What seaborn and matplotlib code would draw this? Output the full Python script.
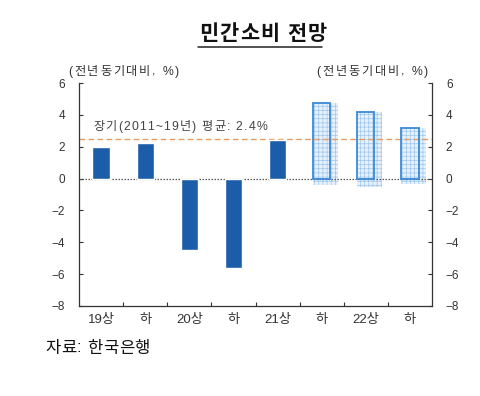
import matplotlib
matplotlib.use("Agg")
import matplotlib.pyplot as plt
import seaborn as sns
import pandas as pd
import numpy as np

categories = ["19상", "하", "20상", "하 ", "21상", "하  ", "22상", "하   "]
tick_labels = ["19상", "하", "20상", "하", "21상", "하", "22상", "하"]
actual_values = [2.0, 2.25, -4.5, -5.6, 2.4]
forecast_values = [4.75, 4.15, 3.2]
forecast_low = [-0.4, -0.55, -0.35]
long_term_avg = 2.5
avg_label = "장기(2011~19년) 평균: 2.4%"
unit_label = "(전년동기대비, %)"
title = "민간소비 전망"
source = "자료: 한국은행"
yticks = [-8, -6, -4, -2, 0, 2, 4, 6]

sns.set_theme(style="white")
FAM = ['Liberation Sans', 'Noto Sans CJK KR', 'DejaVu Sans']
plt.rcParams['font.family'] = FAM
plt.rcParams['hatch.linewidth'] = 0.5

n_act = len(actual_values)
df_act = pd.DataFrame({"cat": categories[:n_act], "val": actual_values})
df_fc = pd.DataFrame({"cat": categories[n_act:], "val": forecast_values})

W, H = 480, 396
fig = plt.figure(figsize=(W / 100, H / 100), dpi=100)
ax = fig.add_axes([0.1646, 0.2273, 0.7354, 0.5631])

fc_pos = np.arange(n_act, len(categories))
ax.bar(fc_pos + 0.08, np.array(forecast_values) - np.array(forecast_low),
       bottom=forecast_low, width=0.56, facecolor="#e8f1fb",
       edgecolor="#9cc6ee", linewidth=0, hatch="++++", zorder=1)

sns.barplot(data=df_act, x="cat", y="val", order=categories, color="#1c5daa",
            width=0.39, saturation=1, ax=ax, zorder=3)
sns.barplot(data=df_fc, x="cat", y="val", order=categories, color="none",
            width=0.39, saturation=1, ax=ax, zorder=3, fill=False,
            edgecolor="#3c8ad6", linewidth=1.3)

ax.axhline(0, color="#555555", linestyle=(0, (1.2, 1.2)), linewidth=0.9, zorder=2)
ax.axhline(long_term_avg, color="#e89a60", linestyle=(0, (4, 2.5)), linewidth=1.0, zorder=2)

ax.set_xlim(-0.5, len(categories) - 0.5)
ax.set_ylim(-8, 6)
ax.set_yticks(yticks)
ax.set_yticklabels([("−%d" % -t) if t < 0 else str(t) for t in yticks])
ax.set_xticks(range(len(categories)))
ax.set_xticklabels(tick_labels)
ax.set_xlabel("")
ax.set_ylabel("")

ax.tick_params(axis="y", labelsize=8.5, labelcolor="#333333", direction="in",
               length=3, width=0.8, color="#333333", pad=10,
               right=True, labelright=True, left=True, labelleft=True)
ax.tick_params(axis="x", labelsize=9.5, labelcolor="#333333", length=0, pad=6)
ax.set_xticks(np.arange(0.5, len(categories) - 0.5, 1), minor=True)
ax.tick_params(axis="x", which="minor", direction="in", length=3, width=0.8,
               color="#333333", bottom=True)

for s in ["left", "right", "bottom"]:
    ax.spines[s].set_visible(True)
    ax.spines[s].set_color("#333333")
    ax.spines[s].set_linewidth(0.9)
ax.spines["top"].set_visible(False)

renderer = fig.canvas.get_renderer()


def spaced_text(x_px, y_px, s, gap_px, ha="left", **kw):
    """Draw text char by char with extra letter spacing (pixel coords from top-left)."""
    arts = []
    widths = []
    for ch in s:
        t = fig.text(0, 0, ch, va="center", ha="left", **kw)
        bb = t.get_window_extent(renderer)
        w = bb.width
        if ch == " ":
            t2 = fig.text(0, 0, "a a", **kw)
            t3 = fig.text(0, 0, "aa", **kw)
            w = t2.get_window_extent(renderer).width - t3.get_window_extent(renderer).width
            t2.remove(); t3.remove()
        arts.append(t)
        widths.append(w)
    total = sum(widths) + gap_px * (len(s) - 1)
    x = x_px if ha == "left" else x_px - total
    for t, w in zip(arts, widths):
        t.set_position((x / W, 1 - y_px / H))
        x += w + gap_px
    return total


spaced_text(199, 34, title, 1.2, fontsize=15, fontweight="bold", color="#111111")
fig.add_artist(plt.Line2D([198 / W, 322 / W], [1 - 46.5 / H] * 2, color="#222222", linewidth=1.1))
spaced_text(68, 72, unit_label, 1.8, fontsize=8.8, color="#333333")
spaced_text(428, 72, unit_label, 1.8, ha="right", fontsize=8.8, color="#333333")
spaced_text(93, 127, avg_label, 1.2, fontsize=8.8, color="#444444")
spaced_text(45, 348, source, 0.5, fontsize=12, color="#111111")

fig.savefig("out.png", dpi=100, facecolor="white")
